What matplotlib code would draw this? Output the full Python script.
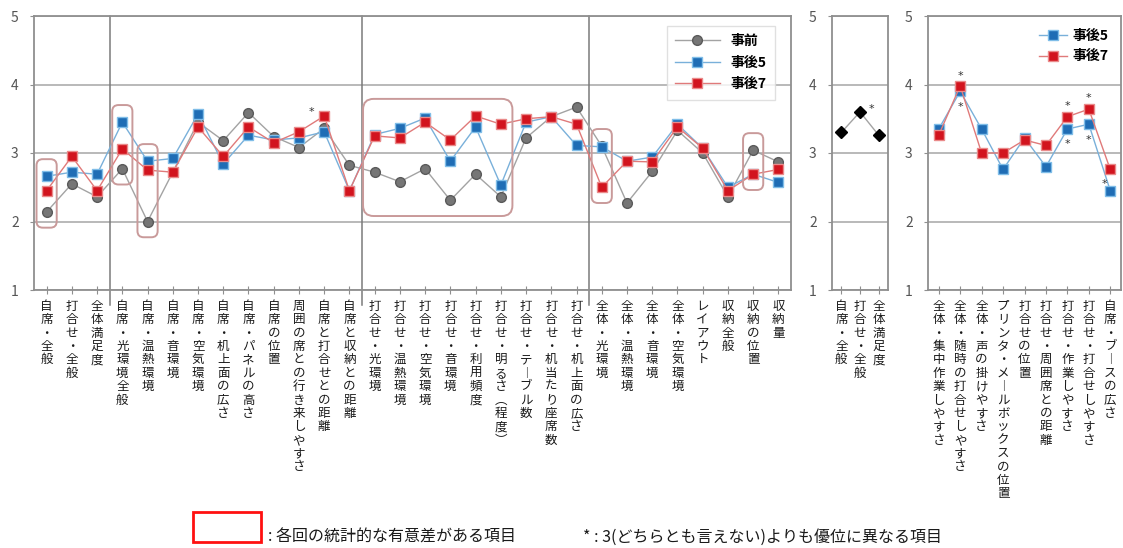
import matplotlib
matplotlib.use("Agg")
import matplotlib.pyplot as plt
from matplotlib.patches import FancyBboxPatch, Rectangle

plt.rcParams['font.family'] = ['Noto Sans CJK JP', 'DejaVu Sans']

# ---- data -------------------------------------------------------------
items_main = [
    "自席・全般", "打合せ・全般", "全体満足度",
    "自席・光環境全般", "自席・温熱環境", "自席・音環境", "自席・空気環境",
    "自席・机上面の広さ", "自席・パネルの高さ", "自席の位置",
    "周囲の席との行き来しやすさ", "自席と打合せとの距離", "自席と収納との距離",
    "打合せ・光環境", "打合せ・温熱環境", "打合せ・空気環境", "打合せ・音環境",
    "打合せ・利用頻度", "打合せ・明るさ(程度)", "打合せ・テーブル数",
    "打合せ・机当たり座席数", "打合せ・机上面の広さ",
    "全体・光環境", "全体・温熱環境", "全体・音環境", "全体・空気環境",
    "レイアウト", "収納全般", "収納の位置", "収納量",
]
before = [2.14, 2.55, 2.36, 2.77, 2.00, 2.72, 3.45, 3.18, 3.59, 3.24,
          3.08, 3.36, 2.82, 2.72, 2.58, 2.77, 2.31, 2.69, 2.36, 3.22,
          3.53, 3.67, 3.10, 2.27, 2.73, 3.33, 3.00, 2.36, 3.04, 2.87]
after5 = [2.66, 2.72, 2.69, 3.45, 2.88, 2.92, 3.57, 2.84, 3.26, 3.19,
          3.22, 3.31, 2.45, 3.27, 3.36, 3.51, 2.88, 3.38, 2.53, 3.45,
          3.53, 3.11, 3.09, 2.88, 2.94, 3.42, 3.07, 2.50, 2.69, 2.57]
after7 = [2.45, 2.95, 2.45, 3.06, 2.75, 2.72, 3.38, 2.95, 3.38, 3.15,
          3.31, 3.54, 2.45, 3.25, 3.22, 3.45, 3.19, 3.54, 3.42, 3.50,
          3.53, 3.42, 2.50, 2.88, 2.87, 3.38, 3.07, 2.45, 2.69, 2.76]

items_mid = ["自席・全般", "打合せ・全般", "全体満足度"]
overall = [3.30, 3.60, 3.26]

items_right = [
    "全体・集中作業しやすさ", "全体・随時の打合せしやすさ", "全体・声の掛けやすさ",
    "プリンタ・メールボックスの位置", "打合せの位置", "打合せ・周囲席との距離",
    "打合せ・作業しやすさ", "打合せ・打合せしやすさ", "自席・ブースの広さ",
]
after5_r = [3.35, 3.90, 3.35, 2.76, 3.22, 2.80, 3.35, 3.42, 2.45]
after7_r = [3.26, 3.98, 3.00, 3.00, 3.19, 3.11, 3.53, 3.64, 2.76]

# group boundaries (item index after which a separator is drawn)
group_breaks = [2, 12, 21]
# runs of items with a significant difference between surveys
significant_runs = [(0, 0), (3, 3), (4, 4), (13, 18), (22, 22), (28, 28)]

# ---- styles -------------------------------------------------------------
GRID = "#a6a6a6"
SPINE = "#8f8f8f"
styles = {
    "事前": dict(color="#a3a3a3", marker="o", mfc="#767676", mec="#5a5a5a",
               ms=7, lw=1.0, zorder=3),
    "事後5": dict(color="#79b0da", marker="s", mfc="#1f6db5", mec="#7fbde8",
                ms=7.5, lw=1.0, zorder=4),
    "事後7": dict(color="#e07a7a", marker="s", mfc="#d2141e", mec="#ea8a8a",
                ms=7.5, lw=1.0, zorder=5),
}


def vertical(text):
    table = {"ー": "︱", "(": "︵", ")": "︶"}
    return "\n".join(table.get(c, c) for c in text)


def style_axes(ax, labels):
    n = len(labels)
    ax.set_xlim(-0.5, n - 0.5)
    ax.set_ylim(1, 5)
    ax.set_yticks([1, 2, 3, 4, 5])
    ax.set_xticks(range(n))
    ax.set_xticklabels([vertical(s) for s in labels], va="top", ha="center",
                       fontsize=9, linespacing=1.04, color="#1a1a1a")
    ax.tick_params(axis="x", direction="inout", length=6, color=SPINE, pad=4)
    ax.tick_params(axis="y", direction="out", length=3, color=SPINE,
                   labelsize=10, labelcolor="#555555", pad=8)
    ax.yaxis.grid(True, color=GRID, lw=1.1)
    ax.set_axisbelow(True)
    for sp in ax.spines.values():
        sp.set_color(SPINE)
        sp.set_linewidth(1.3)


W, H = 1123, 548
fig = plt.figure(figsize=(W / 100, H / 100), dpi=100)


def px_axes(x0, x1, ytop=16, ybot=290):
    return fig.add_axes([x0 / W, 1 - ybot / H, (x1 - x0) / W, (ybot - ytop) / H])


ax1 = px_axes(34, 791)
ax2 = px_axes(832, 888)
ax3 = px_axes(928, 1121)

for ax, labels in [(ax1, items_main), (ax2, items_mid), (ax3, items_right)]:
    style_axes(ax, labels)

# ---- main panel ---------------------------------------------------------
x_main = range(len(items_main))
for name, vals in [("事前", before), ("事後5", after5), ("事後7", after7)]:
    ax1.plot(x_main, vals, label=name, **styles[name])

for b in group_breaks:
    ax1.axvline(b + 0.5, ymin=-0.055, ymax=1, color="#7a7a7a", lw=1.1,
                clip_on=False, zorder=2)

leg = ax1.legend(loc="upper right", bbox_to_anchor=(0.988, 0.99),
                 frameon=True, fancybox=False, handlelength=3.2,
                 prop=dict(weight="bold", size=10), borderpad=0.6,
                 labelspacing=0.55)
leg.get_frame().set_edgecolor("#d9d9d9")
leg.get_frame().set_linewidth(1.0)

# rounded boxes around significant items
fig.canvas.draw()
p0 = ax1.transData.transform((0, 0))
p1 = ax1.transData.transform((1, 1))
aspect = (p1[0] - p0[0]) / (p1[1] - p0[1])
all_series = [before, after5, after7]
for a, b in significant_runs:
    vals = [s[i] for s in all_series for i in range(a, b + 1)]
    lo, hi = min(vals) - 0.23, max(vals) + 0.25
    padx = 0.4 if a == b else 0.46
    rad = 0.25 if a == b else 0.42
    box = FancyBboxPatch((a - padx, lo), (b - a) + 2 * padx, hi - lo,
                         boxstyle=f"round,pad=0,rounding_size={rad}",
                         mutation_aspect=aspect, fill=False,
                         ec="#c99a9a", lw=1.4, zorder=6)
    ax1.add_patch(box)

# ---- middle panel -------------------------------------------------------
ax2.plot(range(len(items_mid)), overall, color="#a3a3a3", lw=1.0,
         marker="D", ms=6.5, mfc="black", mec="black", zorder=4)

# ---- right panel --------------------------------------------------------
x_r = range(len(items_right))
ax3.plot(x_r, after5_r, label="事後5", **styles["事後5"])
ax3.plot(x_r, after7_r, label="事後7", **styles["事後7"])
ax3.legend(loc="upper right", bbox_to_anchor=(1.0, 1.0), frameon=False,
           handlelength=2.0, handletextpad=0.4,
           prop=dict(weight="bold", size=10), labelspacing=0.5)

# ---- significance stars (vs. neutral 3) ---------------------------------
star_kw = dict(textcoords="offset points", ha="center", va="center",
               fontsize=8, color="#333333", zorder=7, family="DejaVu Sans")
stars = [
    (ax1, 11, after7[11], (-9, 5)),
    (ax2, 1, overall[1], (8, 4)),
    (ax3, 1, after7_r[1], (0, 9)),
    (ax3, 1, after5_r[1], (0, -9)),
    (ax3, 6, after7_r[6], (0, 10)),
    (ax3, 6, after5_r[6], (0, -9)),
    (ax3, 7, after7_r[7], (0, 10)),
    (ax3, 7, after5_r[7], (0, -9)),
    (ax3, 8, after5_r[8], (-4, 7)),
]
for ax, i, v, off in stars:
    ax.annotate("*", xy=(i, v), xytext=(off[0], off[1] - 2), **star_kw)

# ---- footnote -----------------------------------------------------------
fig.patches.append(Rectangle((193 / W, 1 - 542 / H), 68 / W, 30 / H,
                             transform=fig.transFigure, fill=False,
                             ec="#ff1010", lw=2.0))
fig.text(268 / W, 1 - 537 / H, ": 各回の統計的な有意差がある項目",
         fontsize=11.5, va="center", ha="left", color="#1a1a1a")
fig.text(583 / W, 1 - 537 / H, "* : 3(どちらとも言えない)よりも優位に異なる項目",
         fontsize=11.5, va="center", ha="left", color="#1a1a1a")

fig.savefig("out.png", dpi=100)
